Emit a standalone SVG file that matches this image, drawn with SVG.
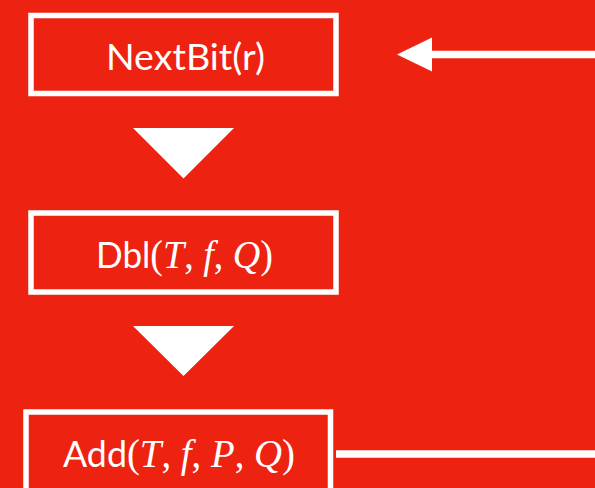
<svg xmlns="http://www.w3.org/2000/svg" width="595" height="488" viewBox="0 0 595 488">
  <style>
    .box { fill: none; stroke: #ffffff; stroke-width: 5.5; }
    .sans { font-family: Lato, "Open Sans", "Liberation Sans", sans-serif; font-size: 36px; fill: #ffffff; }
    .math { font-family: "Liberation Serif", "DejaVu Serif", serif; font-size: 39px; }
    .it { font-style: italic; }
    .conn { stroke: #ffffff; stroke-width: 7.5; fill: none; }
    .head { fill: #ffffff; }
  </style>
  <rect x="0" y="0" width="595" height="488" fill="#EE2210"/>

  <g id="node-nextbit">
    <rect class="box" x="31" y="15.5" width="305" height="78"/>
    <text class="sans" x="106" y="70" textLength="159" lengthAdjust="spacingAndGlyphs">NextBit(r)</text>
  </g>

  <g id="node-dbl">
    <rect class="box" x="31" y="213" width="305" height="79"/>
    <text class="sans" x="96" y="268" textLength="177" lengthAdjust="spacingAndGlyphs">Dbl<tspan class="math">(<tspan class="it">T</tspan>, <tspan class="it">f</tspan>, <tspan class="it">Q</tspan>)</tspan></text>
  </g>

  <g id="node-add">
    <rect class="box" x="26" y="412" width="304.5" height="80"/>
    <text class="sans" x="63" y="467" textLength="232" lengthAdjust="spacingAndGlyphs">Add<tspan class="math">(<tspan class="it">T</tspan>, <tspan class="it">f</tspan>, <tspan class="it">P</tspan>, <tspan class="it">Q</tspan>)</tspan></text>
  </g>

  <g id="connectors">
    <polygon class="head" points="133,128 234,128 183.5,178.5"/>
    <polygon class="head" points="133,326 234,326 183.5,376"/>
    <line class="conn" x1="336" y1="454" x2="595" y2="454"/>
    <line class="conn" x1="430" y1="54.5" x2="595" y2="54.5"/>
    <polygon class="head" points="397,54.5 432,37.5 432,71.5"/>
  </g>
</svg>
